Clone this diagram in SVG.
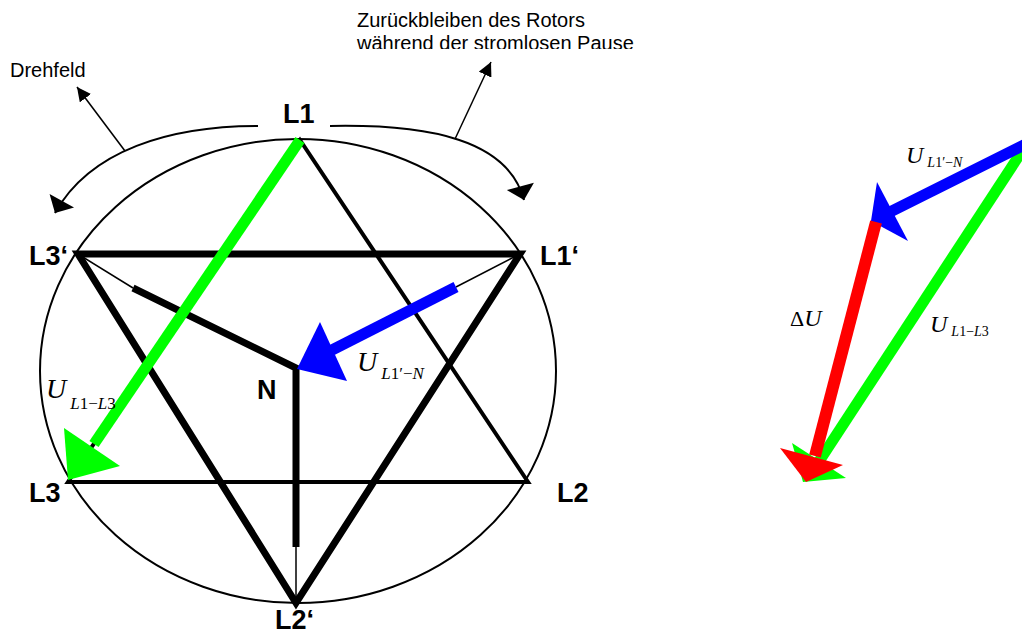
<svg xmlns="http://www.w3.org/2000/svg" width="1022" height="635" viewBox="0 0 1022 635">
<style>
.lbl{font-family:"Liberation Sans",Arial,sans-serif;font-weight:bold;font-size:27px;fill:#000}
.note{font-family:"Liberation Sans",Arial,sans-serif;font-size:20px;fill:#000}
.m{font-family:"Liberation Serif","Times New Roman",serif;fill:#000}
.mU{font-size:24px;font-style:italic}
.mUL{font-size:28px;font-style:italic}
.ms{font-size:14px}
.msL{font-size:17px}
.it{font-style:italic}
.thin{stroke:#000;stroke-width:1.5;fill:none}
.t1{stroke:#000;stroke-width:4;fill:none;stroke-linecap:square}
.t2{stroke:#000;stroke-width:7;fill:none;stroke-linecap:butt}
.curve{stroke:#000;stroke-width:2;fill:none}
.gr{stroke:#00ff00;stroke-width:11;fill:none}
.bl{stroke:#0000ff;stroke-width:11;fill:none}
.rd{stroke:#ff0000;stroke-width:12;fill:none}
</style>
<defs>
<marker id="ah" viewBox="0 0 10 10" refX="10" refY="5" markerWidth="14" markerHeight="14" markerUnits="userSpaceOnUse" orient="auto">
<path d="M0,0 L10,5 L0,10 Z" fill="#000"/>
</marker>
<marker id="ah2" viewBox="0 0 10 20" refX="10" refY="10" markerWidth="19" markerHeight="28" markerUnits="userSpaceOnUse" orient="auto">
<path d="M0,0 L10,10 L0,20 Z" fill="#000"/>
</marker>
<clipPath id="clipTop"><rect x="0" y="0" width="1022" height="49"/></clipPath>
</defs>

<g id="notes">
<g clip-path="url(#clipTop)">
<text class="note" x="357" y="27">Zurückbleiben des Rotors</text>
<text class="note" x="357" y="50">während der stromlosen Pause</text>
</g>
<text class="note" x="10" y="77">Drehfeld</text>
</g>

<g id="rotation">
<path class="curve" d="M258,126 C170,126 90,150 55,213" marker-end="url(#ah2)"/>
<path class="curve" d="M330,126 C430,124 508,140 524,200" marker-end="url(#ah2)"/>
<line class="thin" x1="125" y1="151" x2="77" y2="87" marker-end="url(#ah)"/>
<line class="thin" x1="455" y1="139" x2="491" y2="62" marker-end="url(#ah)"/>
</g>

<g id="circle">
<ellipse cx="298" cy="371" rx="258" ry="232" fill="none" stroke="#000" stroke-width="2"/>
</g>

<g id="connectors">
<polygon class="t1" points="300,140 528,482 68,482"/>
<polygon class="t2" points="78,254 520,254 296,603" stroke-linejoin="miter"/>
<polyline class="t2" points="133,288 296,368 296,547"/>
<line class="thin" x1="78" y1="254" x2="133" y2="288"/>
<line class="thin" x1="520" y1="254" x2="456" y2="287"/>
<line class="thin" x1="296" y1="547" x2="296" y2="603"/>
</g>

<g id="vec-left">
<line class="gr" x1="300" y1="140" x2="94" y2="444"/>
<polygon fill="#00ff00" points="68,480 64,428 120,466"/>
<line class="bl" x1="456" y1="287" x2="332" y2="350"/>
<polygon fill="#0000ff" points="297,369 320,322 347,381"/>
</g>

<g id="vec-right">
<line class="gr" x1="1024" y1="148" x2="816" y2="466"/>
<polygon fill="#00ff00" points="803,482 792,443 846,478"/>
<line class="bl" x1="1030" y1="142" x2="890" y2="212"/>
<polygon fill="#0000ff" points="871,221 877,182 908,241"/>
<line class="rd" x1="876" y1="222" x2="815" y2="456"/>
<polygon fill="#ff0000" points="806,482 780,448 843,465"/>
</g>

<g id="labels">
<text class="lbl" x="283" y="123">L1</text>
<text class="lbl" x="29" y="265">L3‘</text>
<text class="lbl" x="540" y="265">L1‘</text>
<text class="lbl" x="29" y="502">L3</text>
<text class="lbl" x="557" y="502">L2</text>
<text class="lbl" x="275" y="629">L2‘</text>
<text class="lbl" x="257" y="399">N</text>
</g>

<g id="math">
<text class="m" x="46" y="398"><tspan class="mUL">U</tspan><tspan class="msL" dx="4" dy="11"><tspan class="it">L</tspan>1−<tspan class="it">L</tspan>3</tspan></text>
<text class="m" x="357" y="371"><tspan class="mUL">U</tspan><tspan class="msL" dx="4" dy="8"><tspan class="it">L</tspan>1′−<tspan class="it">N</tspan></tspan></text>
<text class="m" x="906" y="163"><tspan class="mU">U</tspan><tspan class="ms" dx="4" dy="4"><tspan class="it">L</tspan>1′−<tspan class="it">N</tspan></tspan></text>
<text class="m" x="790" y="326"><tspan font-size="22px">Δ</tspan><tspan class="mU">U</tspan></text>
<text class="m" x="930" y="332"><tspan class="mU">U</tspan><tspan class="ms" dx="4" dy="4"><tspan class="it">L</tspan>1−<tspan class="it">L</tspan>3</tspan></text>
</g>
</svg>
